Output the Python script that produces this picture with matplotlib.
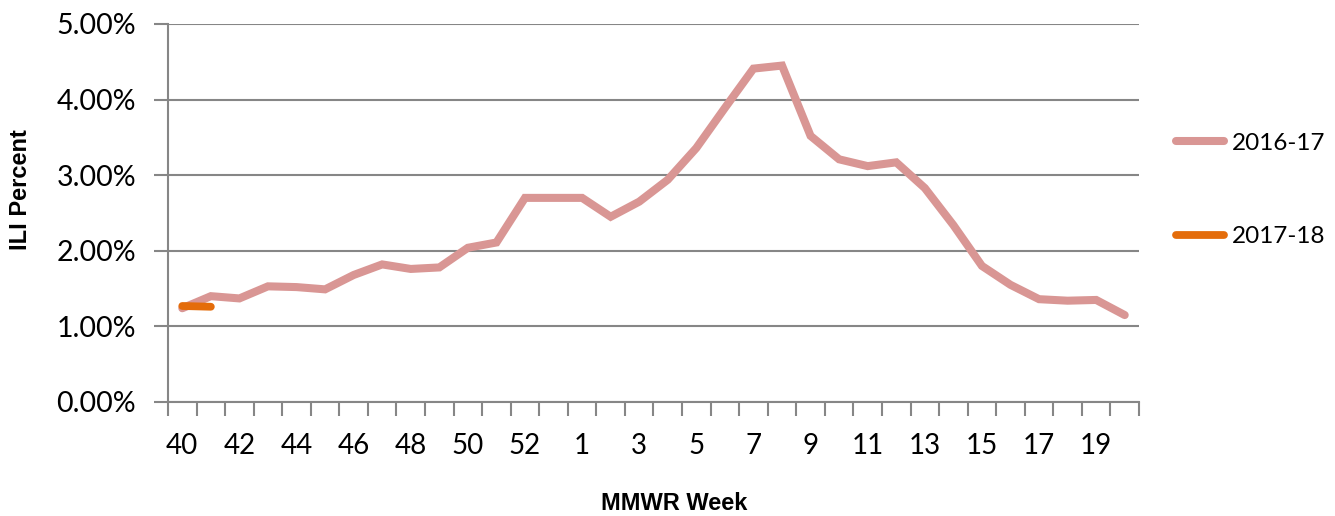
import matplotlib
matplotlib.use("Agg")
import matplotlib.pyplot as plt
import numpy as np
from matplotlib.ticker import FuncFormatter

weeks = [40, 41, 42, 43, 44, 45, 46, 47, 48, 49, 50, 51, 52, 53,
         1, 2, 3, 4, 5, 6, 7, 8, 9, 10, 11, 12, 13, 14, 15, 16, 17, 18, 19, 20]
ili_2016_17 = [1.24, 1.40, 1.37, 1.53, 1.52, 1.49, 1.68, 1.82, 1.76, 1.78, 2.04, 2.11,
               2.70, 2.70, 2.70, 2.45, 2.65, 2.94, 3.36, 3.89, 4.41, 4.45, 3.52, 3.21,
               3.12, 3.17, 2.83, 2.34, 1.80, 1.55, 1.36, 1.34, 1.35, 1.15]
ili_2017_18 = [1.27, 1.26]

grid_col = "#868686"

fig = plt.figure(figsize=(13.35, 5.16), dpi=100)
ax = fig.add_axes([168/1335, 1 - 402/516, (1139-168)/1335, (402-24)/516])

x = np.arange(len(weeks))
ax.plot(x, ili_2016_17, color="#D99694", lw=5.8, solid_capstyle="round",
        solid_joinstyle="miter", label="2016-17", zorder=3)
ax.plot(x[:len(ili_2017_18)], ili_2017_18, color="#E46C0A", lw=5.6,
        solid_capstyle="round", label="2017-18", zorder=4)

ax.set_xlim(-0.5, len(weeks) - 0.5)
ax.set_ylim(0, 5)
ax.set_yticks(np.arange(0, 5.01, 1))
ax.yaxis.set_major_formatter(FuncFormatter(lambda v, p: "%.2f%%" % v))
ax.grid(axis="y", color=grid_col, lw=1.5)
ax.set_axisbelow(True)

ax.set_xticks(x[::2])
ax.set_xticklabels([str(w) for w in weeks[::2]])
ax.set_xticks(np.arange(-0.5, len(weeks), 1), minor=True)
ax.tick_params(axis="x", which="major", length=0, pad=22, labelsize=20)
ax.tick_params(axis="x", which="minor", length=10, width=1.5, color=grid_col, direction="out")
ax.tick_params(axis="y", length=10, width=1.5, color=grid_col, pad=13, labelsize=20.5)
for lab in ax.get_xticklabels() + ax.get_yticklabels():
    lab.set_family("Lato")

for s in ["top", "right"]:
    ax.spines[s].set_visible(False)
for s in ["left", "bottom"]:
    ax.spines[s].set_color(grid_col)
    ax.spines[s].set_linewidth(1.5)

ax.set_ylabel("ILI Percent", fontsize=17, fontweight="bold", family="Liberation Sans")
ax.set_xlabel("MMWR Week", fontsize=17, fontweight="bold", family="Liberation Sans")
ax.xaxis.set_label_coords(0.521, -0.238)
ax.yaxis.set_label_coords(-0.140, 0.563)

leg = fig.legend(loc="center left", bbox_to_anchor=(1154/1335, 1 - 190/516), frameon=False,
                 handlelength=2.0, handletextpad=0.3, labelspacing=3.0,
                 prop={"family": "Lato", "size": 17.5})

fig.savefig("out.png", dpi=100)
